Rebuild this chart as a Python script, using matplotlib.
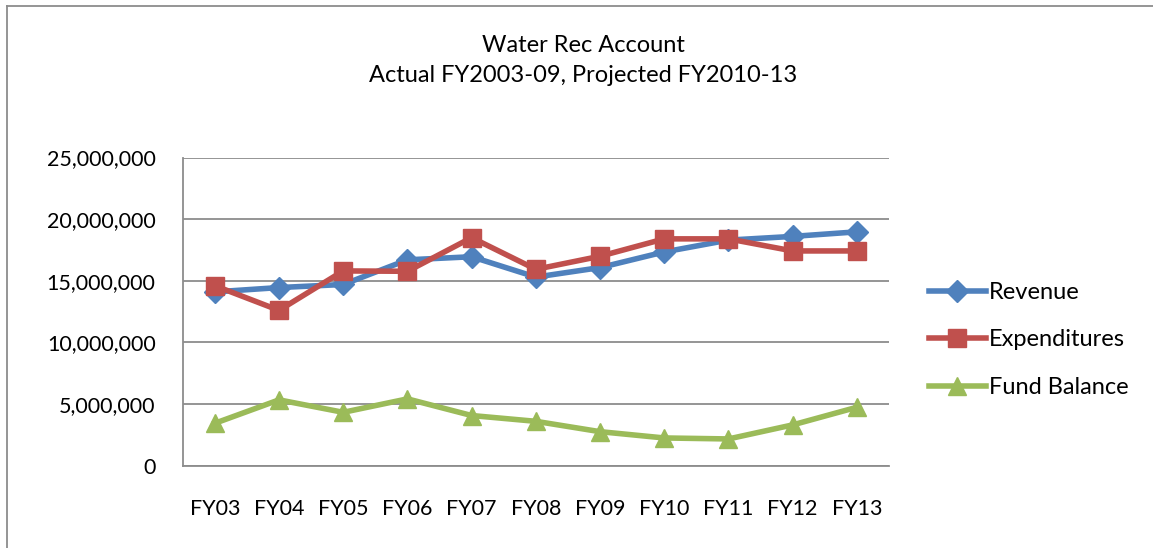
import matplotlib
matplotlib.use("Agg")
import matplotlib.pyplot as plt
from matplotlib.lines import Line2D
from matplotlib.ticker import FuncFormatter

plt.rcParams['font.family'] = ['Lato', 'DejaVu Sans']

# 数据
years = ["FY03", "FY04", "FY05", "FY06", "FY07", "FY08",
         "FY09", "FY10", "FY11", "FY12", "FY13"]
revenue = [14.10e6, 14.45e6, 14.70e6, 16.70e6, 16.95e6, 15.30e6,
           16.07e6, 17.34e6, 18.30e6, 18.60e6, 18.97e6]
expenditures = [14.60e6, 12.60e6, 15.80e6, 15.77e6, 18.50e6, 15.93e6,
                16.99e6, 18.40e6, 18.40e6, 17.42e6, 17.42e6]
fund_balance = [3.44e6, 5.34e6, 4.33e6, 5.42e6, 4.07e6, 3.60e6,
                2.76e6, 2.25e6, 2.17e6, 3.31e6, 4.74e6]

W, H = 1153, 548
fig = plt.figure(figsize=(W / 100, H / 100), dpi=100)
ax = fig.add_axes([182.7 / W, 1 - 465.7 / H, (889 - 182.7) / W, (465.7 - 157.5) / H])

x = range(len(years))
ax.plot(x, revenue, color="#4F81BD", lw=4, marker="D", ms=11,
        label="Revenue", zorder=3)
ax.plot(x, expenditures, color="#C0504D", lw=4, marker="s", ms=13,
        label="Expenditures", zorder=4)
ax.plot(x, fund_balance, color="#9BBB59", lw=4, marker="^", ms=13,
        label="Fund Balance", zorder=3)

ax.set_xlim(-0.5, len(years) - 0.5)
ax.set_ylim(0, 25e6)
ax.set_yticks(range(0, 25000001, 5000000))
ax.yaxis.set_major_formatter(FuncFormatter(lambda v, p: f"{int(v):,}"))
ax.set_xticks(list(x))
ax.set_xticklabels(years)
ax.tick_params(length=0, labelsize=15.5)
ax.tick_params(axis="x", pad=24)
ax.tick_params(axis="y", pad=19.5)
ax.grid(axis="y", color="#8c8c8c", lw=1.3)
ax.set_axisbelow(True)
for s in ("top", "right"):
    ax.spines[s].set_visible(False)
for s in ("left", "bottom"):
    ax.spines[s].set_color("#8c8c8c")
    ax.spines[s].set_linewidth(1.3)

# 标题
fig.text(583 / W, 1 - 45 / H, "Water Rec Account", ha="center", va="center", fontsize=17)
fig.text(583 / W, 1 - 76 / H, "Actual FY2003-09, Projected FY2010-13",
         ha="center", va="center", fontsize=17)

# 图表外框（只露出上边和左边）
fig.add_artist(Line2D([7 / W, 1.0], [1 - 6 / H, 1 - 6 / H], color="#8c8c8c", lw=1.3))
fig.add_artist(Line2D([7 / W, 7 / W], [0.0, 1 - 6 / H], color="#8c8c8c", lw=1.3))

fig.legend(loc="center left", bbox_to_anchor=(929 / W, 1 - 340 / H),
           frameon=False, fontsize=17, handlelength=2.4, handletextpad=0.15,
           labelspacing=1.12, borderaxespad=0, borderpad=0)

fig.savefig("out.png", dpi=100)
